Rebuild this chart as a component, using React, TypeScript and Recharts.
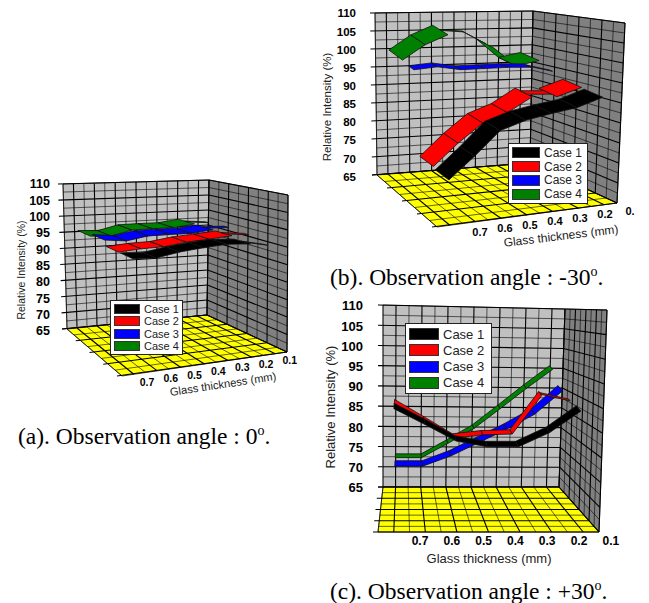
import React from 'react'
import { ScatterChart, Scatter, XAxis, YAxis, ReferenceArea, ReferenceLine, Legend } from 'recharts'

const thickness = [0.7, 0.6, 0.5, 0.4, 0.3, 0.2, 0.1]
const intensityTicks = [65, 70, 75, 80, 85, 90, 95, 100, 105, 110]
const caseNames = ['Case 1', 'Case 2', 'Case 3', 'Case 4']
const caseColors = ['#000000', '#ff0000', '#0000ff', '#008000']

// values as read against the intensity axis
const angle0Case1 = [88, 88.2, 90, 91.3, 92.3, 92.4, 91.4]
const angle0Case2 = [90, 91, 91.6, 93, 93.9, 94.9, 94.7]
const angle0Case3 = [93.7, 93.4, 94.9, 95.4, 95.7, 96.7, 96.9]
const angle0Case4 = [94.9, 94.9, 96.7, 97.1, 97.4, 98.5, 98.3]

const angleMinusCase1 = [65.5, 72, 79, 81.8, 83.6, 85.2, 88]
const angleMinusCase2 = [69.2, 75.6, 81.1, 83.9, 88.2, 88.2, 90.7]
const angleMinusCase3 = [95, 95.8, 95, 95.3, 95.6, 95.6, 94.2]
const angleMinusCase4 = [98.5, 102.7, 105.4, 105, 101.7, 96.7, 98.1]

const anglePlusCase1 = [85.2, 81.3, 77.2, 75.8, 75.8, 79.3, 84.6]
const anglePlusCase2 = [86.3, 82.1, 77.8, 78.6, 78.8, 88.3, 86.7]
const anglePlusCase3 = [71, 71, 73.5, 76.8, 80.1, 83.8, 89.6]
const anglePlusCase4 = [72.9, 72.9, 76.4, 80.1, 85, 90, 94.7]

const FONT = '"Liberation Sans", Arial, sans-serif'

const panels = [
  {
    id: 'a',
    series: [angle0Case1, angle0Case2, angle0Case3, angle0Case4],
    tickLabels: ['0.7', '0.6', '0.5', '0.4', '0.3', '0.2', '0.1'],
    box: { left: 10, top: 170, width: 300, height: 230 },
    plot: { left: 54, right: 300, top: 176, bottom: 380 },
    y110: 184,
    y65: 331,
    tick: { x07: 147, step: 23.8, y07: 382, y01: 360 },
    c: { BL: [67, 329], BR: [207, 315], FR: [287, 352], FL: [122, 376], TL: [63, 184], TR: [209, 180], STR: [288, 195] },
    ribbon: { width: 0.22, lift: 0.55, caseScale: [1, 1, 1, 1] },
    edgeOn: [[0, 5, 0.2], [1, 5, 0.3], [2, 5, 0.3], [3, 5, 0.2]],
    yFont: 12.5,
    xFont: 10.5,
    yTitle: { x: 21, y: 270, size: 10.5 },
    xTitle: { x: 223, y: 384, size: 11.2, angle: -8.6 },
    legend: { left: 110, top: 300, width: 73, height: 55, swatch: 26, swatchH: 10, row: 13, font: 11 },
  },
  {
    id: 'b',
    series: [angleMinusCase1, angleMinusCase2, angleMinusCase3, angleMinusCase4],
    tickLabels: ['0.7', '0.6', '0.5', '0.4', '0.3', '0.2', '0.'],
    box: { left: 318, top: 0, width: 327, height: 250 },
    plot: { left: 360, right: 640, top: 5, bottom: 232 },
    y110: 13.3,
    y65: 176.7,
    tick: { x07: 480, step: 25, y07: 231.7, y01: 211 },
    c: { BL: [377, 175], BR: [530, 163], FR: [617, 203], FL: [437, 227], TL: [375, 13], TR: [533, 11], STR: [625, 23] },
    ribbon: { width: 0.22, lift: 0.9, caseScale: [1, 1, 0.4, 1] },
    edgeOn: [[1, 4, 0.4], [2, 5, 0.4], [3, 2, 0.1], [3, 3, 0.1]],
    yFont: 11.5,
    xFont: 11,
    yTitle: { x: 327, y: 107, size: 11.5 },
    xTitle: { x: 561, y: 236, size: 12, angle: -6.8 },
    legend: { left: 508, top: 143, width: 80, height: 61, swatch: 28, swatchH: 11, row: 15, font: 12 },
  },
  {
    id: 'c',
    series: [anglePlusCase1, anglePlusCase2, anglePlusCase3, anglePlusCase4],
    tickLabels: ['0.7', '0.6', '0.5', '0.4', '0.3', '0.2', '0.1'],
    box: { left: 318, top: 295, width: 327, height: 275 },
    plot: { left: 367, right: 640, top: 300, bottom: 536 },
    y110: 305.7,
    y65: 487.7,
    tick: { x07: 420, step: 31.8, y07: 540.7, y01: 540.7 },
    c: { BL: [383, 487], BR: [559, 487], FR: [599, 532], FL: [378, 532], TL: [383, 305], TR: [565, 309], STR: [607, 310] },
    ribbon: { width: 0.12, lift: 1, caseScale: [1, 0.8, 1, 0.7] },
    edgeOn: [[1, 5, 0.4]],
    yFont: 13,
    xFont: 12,
    yTitle: { x: 330, y: 407, size: 13 },
    xTitle: { x: 489, y: 558, size: 13, angle: 0 },
    legend: { left: 405, top: 323, width: 87, height: 71, swatch: 30, swatchH: 12, row: 17, font: 13 },
  },
]

type Panel = (typeof panels)[number]
type Pt = number[]

const lerp = (a: Pt, b: Pt, k: number): Pt => [a[0] + (b[0] - a[0]) * k, a[1] + (b[1] - a[1]) * k]
const minus = (a: Pt, b: Pt): Pt => [a[0] - b[0], a[1] - b[1]]

// u along the thickness axis, v from back wall to front, h up the wall
const project = (p: Panel, u: number, v: number, h: number): Pt => {
  const { BL, BR, FR, FL, TL, TR, STR } = p.c
  const base = lerp(lerp(BL, FL, v), lerp(BR, FR, v), u)
  const riseBL = minus(TL, BL)
  const riseBR = minus(TR, BR)
  const riseFR = minus(STR, FR)
  const riseFL: Pt = [riseBL[0] + riseFR[0] - riseBR[0], riseBL[1] + riseFR[1] - riseBR[1]]
  const rise = lerp(lerp(riseBL, riseFL, v), lerp(riseBR, riseFR, v), u)
  return [base[0] + rise[0] * h, base[1] + rise[1] * h]
}

const pxToThickness = (p: Panel, px: number) => 0.7 - (px - p.tick.x07) / (p.tick.step * 10)
const pxToIntensity = (p: Panel, py: number) => 65 + ((p.y65 - py) / (p.y65 - p.y110)) * 45
const toData = (p: Panel, pt: Pt) => ({ x: pxToThickness(p, pt[0]), y: pxToIntensity(p, pt[1]) })

const ribbonRows = (p: Panel, caseIndex: number) => {
  const values = p.series[caseIndex]
  const vMid = 0.875 - caseIndex * 0.25
  const node = (i: number, widthScale: number) => {
    const half = (p.ribbon.width / 2) * p.ribbon.caseScale[caseIndex] * widthScale
    const u = (i + 0.5) / thickness.length
    const mid = project(p, u, vMid, 0)
    const front = project(p, u, vMid + half, 0)
    const back = project(p, u, vMid - half, 0)
    const py = p.y65 - ((values[i] - 65) / 45) * (p.y65 - p.y110)
    return {
      centre: [mid[0], py],
      front: [front[0], py + (front[1] - mid[1]) * p.ribbon.lift],
      back: [back[0], py + (back[1] - mid[1]) * p.ribbon.lift],
    }
  }
  return values.map((_, i) => {
    // ribbon seen nearly edge-on along this segment
    const thin = p.edgeOn.find((e) => e[0] === caseIndex && e[1] === i)
    const scale = thin ? thin[2] : 1
    const a = node(i, scale)
    const b = i < values.length - 1 ? node(i + 1, scale) : null
    return {
      ...toData(p, a.centre),
      corners: b ? [a.front, b.front, b.back, a.back].map((c) => toData(p, c)) : null,
    }
  })
}

const gridLines = (p: Panel) => {
  const lines: { from: Pt; to: Pt; major: boolean }[] = []
  for (let i = 0; i <= 14; i++) {
    lines.push({ from: project(p, i / 14, 0, 0), to: project(p, i / 14, 0, 1), major: i % 2 === 1 })
    lines.push({ from: project(p, i / 14, 0, 0), to: project(p, i / 14, 1, 0), major: i % 2 === 1 })
  }
  for (let j = 0; j <= 8; j++) {
    const left = project(p, 0, j / 8, 0)
    const tickStart: Pt = j % 2 === 0 ? [left[0] - 5, left[1]] : left
    lines.push({ from: project(p, 1, j / 8, 0), to: project(p, 1, j / 8, 1), major: j % 2 === 0 })
    lines.push({ from: tickStart, to: project(p, 1, j / 8, 0), major: j % 2 === 0 })
  }
  for (let k = 0; k <= 18; k++) {
    const left = project(p, 0, 0, k / 18)
    const tickStart: Pt = k % 2 === 0 ? [left[0] - 5, left[1]] : left
    lines.push({ from: tickStart, to: project(p, 1, 0, k / 18), major: k % 2 === 0 })
    lines.push({ from: project(p, 1, 0, k / 18), to: project(p, 1, 1, k / 18), major: k % 2 === 0 })
  }
  return lines
}

const PanelChart = ({ p }: { p: Panel }) => {
  const tLeft = pxToThickness(p, p.plot.left)
  const tRight = pxToThickness(p, p.plot.right)
  const vTop = pxToIntensity(p, p.plot.top)
  const vBottom = pxToIntensity(p, p.plot.bottom)
  const scaleX = (p.plot.right - p.plot.left) / (tRight - tLeft)
  const scaleY = (p.plot.bottom - p.plot.top) / (vBottom - vTop)
  const { BL, BR, FR, FL, TL, TR, STR } = p.c

  const surface = (pts: Pt[], fill: string) => (rect: any) => {
    const points = pts
      .map((pt) => toData(p, pt))
      .map((d) => `${rect.x + (d.x - tLeft) * scaleX},${rect.y + (d.y - vTop) * scaleY}`)
      .join(' ')
    return <polygon points={points} fill={fill} stroke="#222" strokeWidth={0.8} />
  }

  const ribbonShape = (fill: string) => (props: any) => {
    const { cx, cy, payload } = props
    if (!payload.corners) return <g />
    const points = payload.corners
      .map((c: any) => `${cx + (c.x - payload.x) * scaleX},${cy + (c.y - payload.y) * scaleY}`)
      .join(' ')
    return <polygon points={points} fill={fill} stroke="#111" strokeWidth={0.8} strokeLinejoin="round" />
  }

  const renderTick = (props: any) => {
    const t = props.payload.value
    const i = thickness.findIndex((d) => Math.abs(d - t) < 0.01)
    const y = p.tick.y07 + ((p.tick.y01 - p.tick.y07) * i) / 6 - p.box.top
    return (
      <text x={props.x} y={y} textAnchor="middle" dominantBaseline="central" fontSize={p.xFont} fontWeight="bold" fontFamily={FONT} fill="#000">
        {p.tickLabels[i]}
      </text>
    )
  }

  const renderLegend = () => (
    <div style={{ boxSizing: 'border-box', width: p.legend.width, height: p.legend.height, background: '#fff', border: '1px solid #222', padding: '2px 3px' }}>
      {caseNames.map((name, i) => (
        <div key={name} style={{ display: 'flex', alignItems: 'center', height: (p.legend.height - 6) / 4, fontFamily: FONT, fontSize: p.legend.font, color: '#222' }}>
          <span style={{ display: 'inline-block', boxSizing: 'border-box', width: p.legend.swatch, height: p.legend.swatchH, background: caseColors[i], border: '1px solid #333', marginRight: 4 }} />
          {name}
        </div>
      ))}
    </div>
  )

  return (
    <div style={{ position: 'absolute', left: p.box.left, top: p.box.top }}>
      <ScatterChart
        width={p.box.width}
        height={p.box.height}
        margin={{
          top: p.plot.top - p.box.top,
          right: p.box.left + p.box.width - p.plot.right,
          bottom: 0,
          left: 0,
        }}
      >
        <XAxis
          type="number"
          dataKey="x"
          reversed
          domain={[tRight, tLeft]}
          allowDataOverflow
          ticks={thickness}
          interval={0}
          axisLine={false}
          tickLine={false}
          height={p.box.top + p.box.height - p.plot.bottom}
          tick={renderTick}
        />
        <YAxis
          type="number"
          dataKey="y"
          domain={[vBottom, vTop]}
          allowDataOverflow
          ticks={intensityTicks}
          interval={0}
          axisLine={false}
          tickLine={false}
          tickSize={0}
          tickMargin={4}
          width={p.plot.left - p.box.left}
          tick={{ fontSize: p.yFont, fontWeight: 'bold', fontFamily: FONT, fill: '#000' }}
        />
        <ReferenceArea x1={tRight} x2={tLeft} y1={vBottom} y2={vTop} ifOverflow="visible" shape={surface([BL, BR, TR, TL], '#c0c0c0')} />
        <ReferenceArea x1={tRight} x2={tLeft} y1={vBottom} y2={vTop} ifOverflow="visible" shape={surface([BR, FR, STR, TR], '#808080')} />
        <ReferenceArea x1={tRight} x2={tLeft} y1={vBottom} y2={vTop} ifOverflow="visible" shape={surface([BL, BR, FR, FL], '#ffff00')} />
        {gridLines(p).map((l, i) => (
          <ReferenceLine
            key={i}
            segment={[toData(p, l.from), toData(p, l.to)]}
            ifOverflow="visible"
            stroke="#000"
            strokeWidth={l.major ? 1.1 : 0.6}
          />
        ))}
        {[3, 2, 1, 0].map((c) => (
          <Scatter
            key={c}
            name={caseNames[c]}
            data={ribbonRows(p, c)}
            fill={caseColors[c]}
            shape={ribbonShape(caseColors[c])}
            isAnimationActive={false}
          />
        ))}
        <Legend
          layout="vertical"
          align="center"
          verticalAlign="middle"
          content={renderLegend}
          wrapperStyle={{ left: p.legend.left - p.box.left, top: p.legend.top - p.box.top, width: p.legend.width, height: p.legend.height }}
        />
        <text
          transform={`translate(${p.yTitle.x - p.box.left},${p.yTitle.y - p.box.top}) rotate(-90)`}
          textAnchor="middle"
          dominantBaseline="central"
          fontSize={p.yTitle.size}
          fontFamily={FONT}
          fill="#222"
        >
          Relative Intensity (%)
        </text>
        <text
          transform={`translate(${p.xTitle.x - p.box.left},${p.xTitle.y - p.box.top}) rotate(${p.xTitle.angle})`}
          textAnchor="middle"
          dominantBaseline="central"
          fontSize={p.xTitle.size}
          fontFamily={FONT}
          fill="#222"
        >
          Glass thickness (mm)
        </text>
      </ScatterChart>
    </div>
  )
}

const captions = [
  { label: '(a). Observation angle : 0', end: '.', left: 18, top: 424 },
  { label: '(b). Observation angle : -30', end: '.', left: 330, top: 265 },
  { label: '(c). Observation angle : +30', end: '.', left: 330, top: 579 },
]

export default function App() {
  return (
    <div style={{ position: 'absolute', left: 0, top: 0, width: 649, height: 603, background: '#fff', overflow: 'hidden' }}>
      {panels.map((p) => (
        <PanelChart key={p.id} p={p} />
      ))}
      {captions.map((c) => (
        <div key={c.label} style={{ position: 'absolute', left: c.left, top: c.top, fontFamily: '"Liberation Serif", serif', fontSize: 23.5, lineHeight: '24px', whiteSpace: 'nowrap', color: '#000' }}>
          {c.label}
          <sup style={{ fontSize: 14, lineHeight: 0 }}>o</sup>
          {c.end}
        </div>
      ))}
    </div>
  )
}
